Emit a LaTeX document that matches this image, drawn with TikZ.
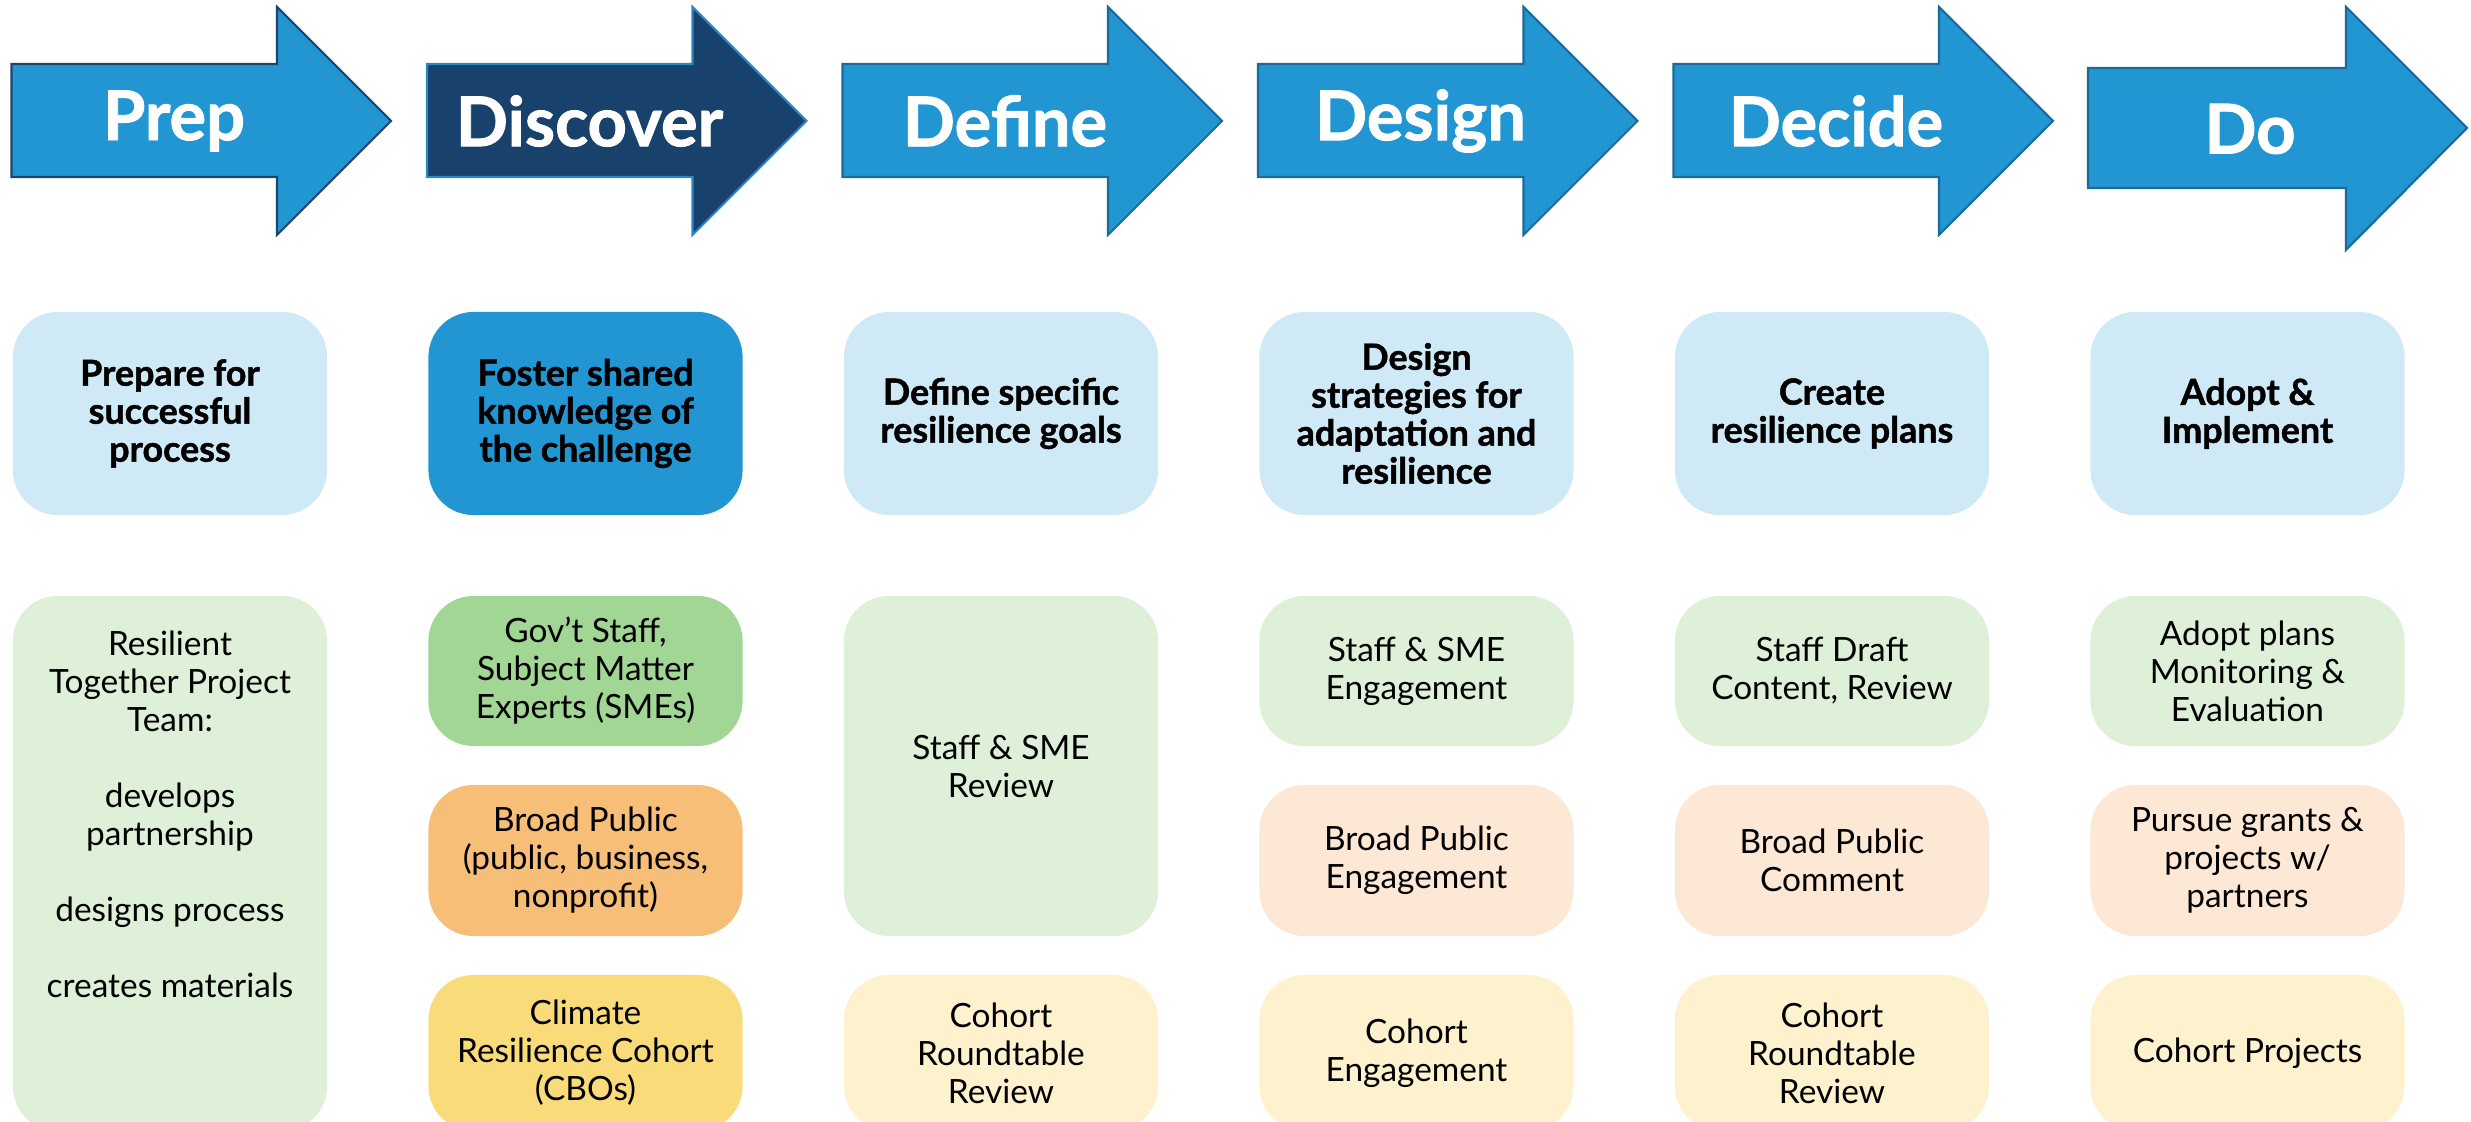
\documentclass[tikz,border=0pt]{standalone}
\usepackage{fontspec}
\setmainfont{Lato}
\newfontfamily\heavyfont{Lato}[FakeBold=1.3]

\definecolor{phaseblue}{RGB}{33,150,211}
\definecolor{phasenavy}{RGB}{24,65,107}
\definecolor{phaseline}{RGB}{26,106,154}
\definecolor{prepline}{RGB}{30,68,110}
\definecolor{discoverline}{RGB}{45,135,195}
\definecolor{goalblue}{RGB}{207,234,246}
\definecolor{lightgreen}{RGB}{223,240,217}
\definecolor{staffgreen}{RGB}{162,214,149}
\definecolor{publicorange}{RGB}{247,190,120}
\definecolor{lightorange}{RGB}{252,232,212}
\definecolor{cohortyellow}{RGB}{250,219,122}
\definecolor{lightyellow}{RGB}{253,241,206}

\begin{document}
\begin{tikzpicture}[x=0.01cm, y=-0.01cm,
    phase/.style={fill=phaseblue, draw=phaseline, line width=0.6pt},
    phaselabel/.style={text=white, font=\fontsize{19.5}{22}\heavyfont\bfseries},
    goal/.style={fill=goalblue, rounded corners=0.45cm, minimum width=3.14cm,
        minimum height=2.03cm, inner sep=0pt, align=center,
        font=\fontsize{10.2}{10.8}\heavyfont\bfseries},
    actor/.style={rounded corners=0.45cm, minimum width=3.14cm, inner sep=0pt,
        align=center, font=\fontsize{9.5}{10.8}\selectfont},
    teamtext/.style={align=center, inner sep=0pt, font=\fontsize{9.5}{10.8}\selectfont}]
% Fix the page to the size of the picture
% and cut off whatever runs past the lower edge.
\useasboundingbox (0,0) rectangle (2471,1122);
\clip (0,0) rectangle (2471,1122);

% The six phase arrows across the top,
% each one drawn as a closed outline.
\draw[phase, draw=prepline] (11.5,64) -- (277,64) -- (277,7) -- (391,121)
    -- (277,235) -- (277,177) -- (11.5,177) -- cycle;
\draw[phase, fill=phasenavy, draw=discoverline] (427,64) -- (692.5,64) -- (692.5,7)
    -- (806.5,121) -- (692.5,235) -- (692.5,177) -- (427,177) -- cycle;
\draw[phase] (842.5,64) -- (1108,64) -- (1108,7) -- (1222,121)
    -- (1108,235) -- (1108,177) -- (842.5,177) -- cycle;
\draw[phase] (1258,64) -- (1523.5,64) -- (1523.5,7) -- (1637.5,121)
    -- (1523.5,235) -- (1523.5,177) -- (1258,177) -- cycle;
\draw[phase] (1673.5,64) -- (1939,64) -- (1939,7) -- (2053,121)
    -- (1939,235) -- (1939,177) -- (1673.5,177) -- cycle;
\draw[phase] (2088,68) -- (2346,68) -- (2346,7) -- (2467,128)
    -- (2346,250) -- (2346,188) -- (2088,188) -- cycle;

\node[phaselabel] (preplabel) at (174,121) {Prep};
\node[phaselabel] (discoverlabel) at (589.5,121) {Discover};
\node[phaselabel] (definelabel) at (1005,121) {Define};
\node[phaselabel] (designlabel) at (1420.5,121) {Design};
\node[phaselabel] (decidelabel) at (1836,121) {Decide};
\node[phaselabel] (dolabel) at (2250,129) {Do};

% Second row: the goal of each phase.
\node[goal] (prepgoal) at (170,413.5) {Prepare for\\successful\\process};
\node[goal, fill=phaseblue] (discovergoal) at (585.5,413.5) {Foster shared\\knowledge of\\the challenge};
\node[goal] (definegoal) at (1001,413.5) {Define specific\\resilience goals};
\node[goal] (designgoal) at (1416.5,413.5) {Design\\strategies for\\adaptation and\\resilience};
\node[goal] (decidegoal) at (1832,413.5) {Create\\resilience plans};
\node[goal] (dogoal) at (2247.5,413.5) {Adopt \&\\Implement};

% Third block: who takes part in each phase.
% Prep has one tall box for the project team.
\node[actor, fill=lightgreen, minimum height=5.35cm] (prepteam) at (170,863.5) {};
\node[teamtext] (prepteamtext) at (170,814) {Resilient\\Together Project\\Team:\\[10.8pt]
    develops\\partnership\\[10.8pt]designs process\\[10.8pt]creates materials};

\node[actor, fill=staffgreen, minimum height=1.50cm] (discoverstaff) at (585.5,671)
    {Gov’t Staff,\\Subject Matter\\Experts (SMEs)};
\node[actor, fill=publicorange, minimum height=1.51cm] (discoverpublic) at (585.5,860.5)
    {Broad Public\\(public, business,\\nonprofit)};
\node[actor, fill=cohortyellow, minimum height=1.56cm] (discovercohort) at (585.5,1053)
    {Climate\\Resilience Cohort\\(CBOs)};

\node[actor, fill=lightgreen, minimum height=3.40cm] (definestaff) at (1001,766)
    {Staff \& SME\\Review};
\node[actor, fill=lightyellow, minimum height=1.56cm] (definecohort) at (1001,1053)
    {Cohort\\Roundtable\\Review};

\node[actor, fill=lightgreen, minimum height=1.50cm] (designstaff) at (1416.5,671)
    {Staff \& SME\\Engagement};
\node[actor, fill=lightorange, minimum height=1.51cm] (designpublic) at (1416.5,860.5)
    {Broad Public\\Engagement};
\node[actor, fill=lightyellow, minimum height=1.56cm] (designcohort) at (1416.5,1053)
    {Cohort\\Engagement};

\node[actor, fill=lightgreen, minimum height=1.50cm] (decidestaff) at (1832,671)
    {Staff Draft\\Content, Review};
\node[actor, fill=lightorange, minimum height=1.51cm] (decidepublic) at (1832,860.5)
    {Broad Public\\Comment};
\node[actor, fill=lightyellow, minimum height=1.56cm] (decidecohort) at (1832,1053)
    {Cohort\\Roundtable\\Review};

\node[actor, fill=lightgreen, minimum height=1.50cm] (dostaff) at (2247.5,671)
    {Adopt plans\\Monitoring \&\\Evaluation};
\node[actor, fill=lightorange, minimum height=1.51cm] (dopublic) at (2247.5,860.5)
    {Pursue grants \&\\projects w/\\partners};
\node[actor, fill=lightyellow, minimum height=1.56cm] (docohort) at (2247.5,1053)
    {Cohort Projects};
\end{tikzpicture}
\end{document}
